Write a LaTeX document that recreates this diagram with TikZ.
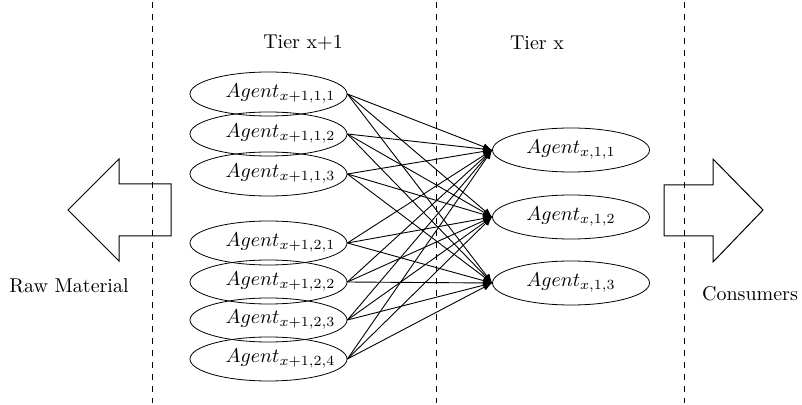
\documentclass[tikz,border=0pt]{standalone}
\usetikzlibrary{shapes.geometric,arrows.meta}
\begin{document}
\begin{tikzpicture}[x=0.5pt,y=-0.5pt,
  agent/.style={draw,ellipse,minimum width=78.5pt,minimum height=22pt,inner sep=0pt},
  flow/.style={-{Latex[length=4.5pt,width=3.5pt]},line width=0.45pt},
  divider/.style={dashed,line width=0.4pt},
  bigarrow/.style={draw,line width=0.5pt},
  lbl/.style={inner sep=0pt}]
\useasboundingbox (0,0) rectangle (802,405);
% dividers
\coordinate (d1t) at (152,2); \coordinate (d1b) at (152,403);
\coordinate (d2t) at (436,2); \coordinate (d2b) at (436,403);
\coordinate (d3t) at (684,2); \coordinate (d3b) at (684,403);
\draw[divider] (d1t) -- (d1b);
\draw[divider] (d2t) -- (d2b);
\draw[divider] (d3t) -- (d3b);
% tier labels
\node[lbl] (tx1) at (303,43) {Tier x+1};
\node[lbl] (tx) at (537,43) {Tier x};
% left agents
\foreach \n/\y/\s in {a1/94/{1,1}, a2/134/{1,2}, a3/174/{1,3}, a4/243/{2,1}, a5/282/{2,2}, a6/320/{2,3}, a7/359/{2,4}}{
  \node[agent] (\n) at (268.5,\y) {};
  \node[lbl] (\n t) at ([xshift=6pt]\n.center) {$Agent_{x+1,\s}$};
}
% right agents
\node[agent] (b1) at (571,150) {$Agent_{x,1,1}$};
\node[agent] (b2) at (571,217) {$Agent_{x,1,2}$};
\node[agent] (b3) at (571,283) {$Agent_{x,1,3}$};
% connections
\foreach \i in {1,...,7}{
  \foreach \j in {1,2,3}{
    \draw[flow] (a\i.east) -- (b\j.west);
  }
}
% big arrows
\draw[bigarrow] (68,210) -- (119,159) -- (119,184) -- (171,184) -- (171,236) -- (119,236) -- (119,261) -- cycle;
\draw[bigarrow] (763,210) -- (713,159) -- (713,185) -- (664,185) -- (664,236) -- (713,236) -- (713,262) -- cycle;
\node[lbl] (raw) at (69,286) {Raw Material};
\node[lbl] (cons) at (750,294) {Consumers};
\end{tikzpicture}
\end{document}
